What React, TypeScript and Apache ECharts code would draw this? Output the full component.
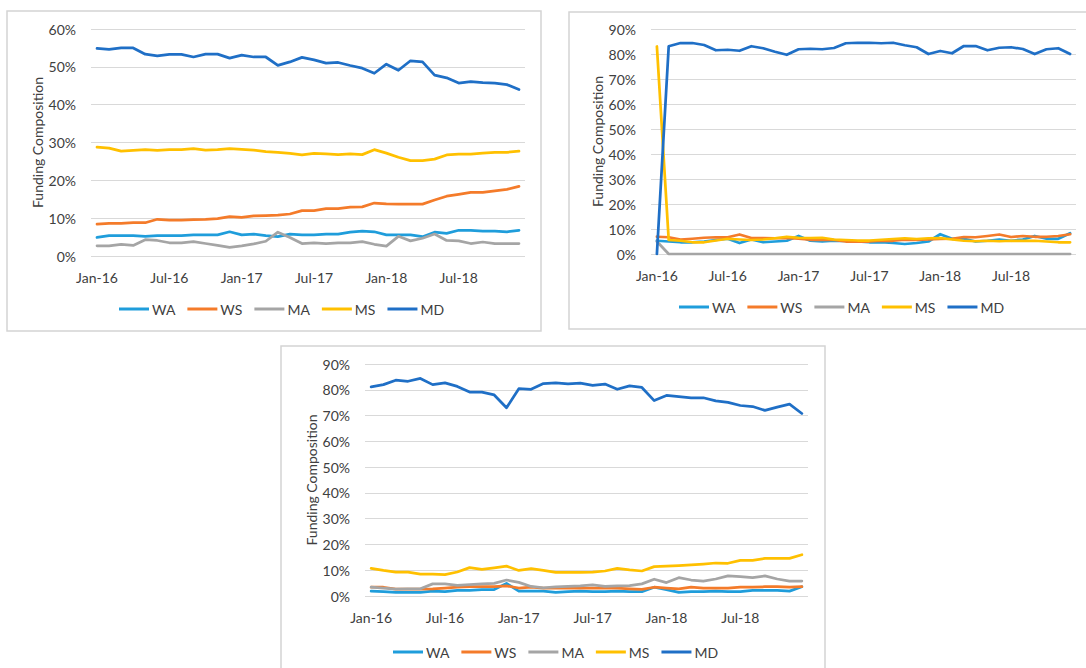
import React, { useEffect, useRef } from "react";
import * as echarts from "echarts";

const categories = [
  "Jan-16", "Feb-16", "Mar-16", "Apr-16", "May-16", "Jun-16", "Jul-16", "Aug-16", "Sep-16", "Oct-16", "Nov-16", "Dec-16",
  "Jan-17", "Feb-17", "Mar-17", "Apr-17", "May-17", "Jun-17", "Jul-17", "Aug-17", "Sep-17", "Oct-17", "Nov-17", "Dec-17",
  "Jan-18", "Feb-18", "Mar-18", "Apr-18", "May-18", "Jun-18", "Jul-18", "Aug-18", "Sep-18", "Oct-18", "Nov-18", "Dec-18",
];

const seriesNames = ["WA", "WS", "MA", "MS", "MD"];
const seriesColors = ["#1f9ddb", "#f47b2a", "#a5a5a5", "#ffc000", "#1f6fc6"];
const axisTitle = "Funding Composition";

// Panel 1 (top left), percent
const p1WA = [4.9, 5.4, 5.4, 5.4, 5.2, 5.4, 5.4, 5.4, 5.6, 5.6, 5.6, 6.4, 5.6, 5.8, 5.4, 5.1, 5.8, 5.6, 5.6, 5.8, 5.8, 6.3, 6.6, 6.4, 5.6, 5.6, 5.6, 5.1, 6.3, 6.0, 6.8, 6.8, 6.6, 6.6, 6.4, 6.8];
const p1WS = [8.4, 8.6, 8.6, 8.8, 8.8, 9.7, 9.5, 9.5, 9.6, 9.7, 9.9, 10.4, 10.2, 10.6, 10.7, 10.8, 11.1, 12.0, 12.0, 12.5, 12.5, 12.9, 13.0, 14.0, 13.8, 13.7, 13.7, 13.7, 14.8, 15.8, 16.3, 16.8, 16.8, 17.2, 17.6, 18.4];
const p1MA = [2.7, 2.7, 3.1, 2.8, 4.3, 4.1, 3.5, 3.5, 3.8, 3.3, 2.8, 2.3, 2.7, 3.2, 3.9, 6.3, 4.9, 3.3, 3.5, 3.3, 3.5, 3.5, 3.8, 3.1, 2.6, 5.2, 4.0, 4.7, 5.8, 4.1, 4.0, 3.3, 3.7, 3.3, 3.3, 3.3];
const p1MS = [28.8, 28.5, 27.7, 27.9, 28.1, 27.9, 28.1, 28.1, 28.4, 28.0, 28.1, 28.4, 28.2, 28.0, 27.6, 27.4, 27.1, 26.7, 27.1, 27.0, 26.8, 27.0, 26.8, 28.1, 27.2, 26.1, 25.2, 25.2, 25.6, 26.7, 26.9, 26.9, 27.2, 27.4, 27.4, 27.7];
const p1MD = [54.85, 54.6, 55.0, 55.0, 53.35, 52.9, 53.3, 53.3, 52.6, 53.35, 53.35, 52.3, 53.1, 52.6, 52.6, 50.4, 51.3, 52.5, 51.85, 51.0, 51.15, 50.35, 49.65, 48.3, 50.7, 49.1, 51.6, 51.3, 47.8, 47.1, 45.7, 46.1, 45.8, 45.7, 45.3, 44.0];

// Panel 2 (top right), percent
const p2WA = [5.3, 5.0, 4.7, 4.7, 5.0, 5.6, 6.1, 4.4, 5.8, 4.7, 5.0, 5.3, 7.2, 5.3, 5.0, 5.3, 5.3, 5.0, 4.7, 4.7, 4.4, 4.0, 4.4, 5.0, 7.9, 6.1, 6.1, 5.0, 5.3, 5.8, 5.3, 5.8, 7.2, 6.1, 6.1, 8.3];
const p2WS = [6.9, 6.7, 5.8, 6.1, 6.5, 6.7, 6.7, 7.8, 6.4, 6.4, 6.3, 6.4, 6.1, 5.7, 5.7, 5.6, 5.0, 5.0, 5.0, 5.3, 5.3, 5.7, 5.7, 5.8, 6.0, 6.1, 6.8, 6.7, 7.2, 7.8, 6.8, 7.2, 6.9, 6.9, 7.2, 7.9];
const p2MA = [5.0, 0, 0, 0, 0, 0, 0, 0, 0, 0, 0, 0, 0, 0, 0, 0, 0, 0, 0, 0, 0, 0, 0, 0, 0, 0, 0, 0, 0, 0, 0, 0, 0, 0, 0, 0];
const p2MS = [83.0, 5.6, 5.3, 4.7, 4.7, 5.4, 6.1, 5.8, 5.6, 5.8, 6.3, 6.9, 6.5, 6.4, 6.5, 5.8, 5.6, 5.4, 5.4, 5.7, 6.0, 6.3, 6.0, 6.3, 6.4, 5.8, 5.3, 5.1, 5.3, 5.1, 5.3, 5.3, 5.3, 5.0, 4.7, 4.7];
const p2MD = [0, 83.1, 84.4, 84.4, 83.6, 81.5, 81.7, 81.3, 83.1, 82.3, 80.9, 79.7, 81.9, 82.1, 81.9, 82.4, 84.3, 84.5, 84.5, 84.3, 84.5, 83.5, 82.7, 80.0, 81.2, 80.3, 83.2, 83.2, 81.5, 82.5, 82.7, 82.0, 80.0, 81.9, 82.3, 80.0];

// Panel 3 (bottom), percent
const p3WA = [1.9, 1.7, 1.4, 1.4, 1.4, 1.9, 1.7, 2.2, 2.2, 2.5, 2.5, 4.9, 1.9, 1.9, 1.9, 1.4, 1.7, 1.9, 1.7, 1.7, 1.9, 1.7, 1.7, 3.4, 2.5, 1.4, 1.7, 1.7, 1.9, 1.7, 1.7, 2.2, 2.2, 2.2, 1.9, 3.6];
const p3WS = [3.4, 3.4, 2.7, 2.7, 2.7, 2.8, 3.1, 3.4, 3.6, 3.6, 3.6, 3.9, 3.1, 3.4, 3.1, 3.1, 3.1, 3.1, 3.1, 3.1, 3.1, 2.8, 2.6, 3.4, 3.1, 2.8, 3.4, 3.1, 3.1, 3.1, 3.4, 3.4, 3.6, 3.6, 3.4, 3.6];
const p3MA = [3.4, 3.1, 2.7, 2.8, 2.8, 4.7, 4.7, 4.1, 4.4, 4.7, 4.9, 6.2, 5.3, 3.7, 3.2, 3.5, 3.7, 3.9, 4.3, 3.7, 3.9, 4.0, 4.7, 6.5, 5.2, 7.1, 6.2, 5.8, 6.6, 7.8, 7.5, 7.1, 7.8, 6.6, 5.8, 5.8];
const p3MS = [10.7, 9.9, 9.3, 9.3, 8.5, 8.5, 8.3, 9.3, 11.0, 10.3, 10.9, 11.6, 9.9, 10.6, 9.9, 9.2, 9.2, 9.2, 9.3, 9.7, 10.7, 10.1, 9.7, 11.4, 11.6, 11.8, 12.1, 12.4, 12.8, 12.7, 13.8, 13.8, 14.6, 14.6, 14.6, 16.0];
const p3MD = [81.1, 82.0, 83.7, 83.3, 84.4, 82.0, 82.7, 81.3, 79.1, 79.1, 78.0, 73.0, 80.4, 80.2, 82.4, 82.7, 82.3, 82.6, 81.7, 82.2, 80.2, 81.5, 80.9, 75.8, 77.8, 77.3, 76.9, 76.9, 75.7, 75.1, 73.9, 73.5, 72.0, 73.3, 74.4, 70.8];

const panelData = [
  [p1WA, p1WS, p1MA, p1MS, p1MD],
  [p2WA, p2WS, p2MA, p2MS, p2MD],
  [p3WA, p3WS, p3MA, p3MS, p3MD],
];
const yMax = [60, 90, 90];

const W = 1086;
const H = 668;
const FONT = "Lato";
const TEXT = "#404040";

// layout per panel: border box, plot rect (gridline extents), legend left / top
const panels = [
  { box: [7, 11, 534, 320], plot: [91, 29, 525, 256], legend: [114, 297], gap: 46 },
  { box: [569, 12, 530, 317], plot: [651, 29, 1076, 254], legend: [674, 295], gap: 46 },
  { box: [281, 346, 544, 340], plot: [365, 364, 808, 596], legend: [388, 640], gap: 46 },
];

export default function App() {
  const ref = useRef<HTMLDivElement>(null);
  useEffect(() => {
    if (!ref.current) return;
    const chart = echarts.init(ref.current, null, { renderer: "svg" });
    const grid: any[] = [];
    const xAxis: any[] = [];
    const yAxis: any[] = [];
    const legend: any[] = [];
    const series: any[] = [];
    const graphic: any[] = [];
    panels.forEach((p, i) => {
      const [x0, y0, x1, y1] = p.plot;
      grid.push({ left: x0, top: y0, right: W - x1, bottom: H - y1, containLabel: false });
      xAxis.push({
        type: "category",
        gridIndex: i,
        data: categories,
        boundaryGap: true,
        axisLine: { show: false },
        axisTick: { show: false },
        axisLabel: { interval: 5, color: TEXT, fontFamily: FONT, fontSize: 14, margin: 14 },
      });
      yAxis.push({
        type: "value",
        gridIndex: i,
        min: 0,
        max: yMax[i],
        interval: 10,
        name: axisTitle,
        nameLocation: "middle",
        nameRotate: 90,
        nameGap: p.gap,
        nameTextStyle: { color: TEXT, fontFamily: FONT, fontSize: 14 },
        axisLine: { show: false },
        axisTick: { show: false },
        axisLabel: { formatter: "{value}%", color: TEXT, fontFamily: FONT, fontSize: 14, margin: 15 },
        splitLine: { show: true, lineStyle: { color: "#d9d9d9", width: 1 } },
      });
      legend.push({
        left: p.legend[0],
        top: p.legend[1],
        icon: "rect",
        itemWidth: 30,
        itemHeight: 3,
        itemGap: 12,
        data: seriesNames,
        textStyle: { color: TEXT, fontFamily: FONT, fontSize: 14, padding: [0, 0, 0, -2] },
      });
      seriesNames.forEach((name, k) => {
        series.push({
          type: "line",
          name,
          xAxisIndex: i,
          yAxisIndex: i,
          data: panelData[i][k],
          symbol: "none",
          color: seriesColors[k],
          lineStyle: { width: 2.75, color: seriesColors[k], join: "round", cap: "round" },
          z: 2 + k,
        });
      });
      const [bx, by, bw, bh] = p.box;
      graphic.push({
        type: "rect",
        shape: { x: bx, y: by, width: bw, height: bh },
        style: { fill: "none", stroke: "#d4d4d4", lineWidth: 1.5 },
        silent: true,
        z: 0,
      });
    });
    chart.setOption({
      animation: false,
      backgroundColor: "#ffffff",
      grid,
      xAxis,
      yAxis,
      legend,
      series,
      graphic,
    });
    return () => chart.dispose();
  }, []);
  return (
    <div
      ref={ref}
      style={{ position: "absolute", left: 0, top: 0, width: W, height: H, background: "#fff" }}
    />
  );
}
